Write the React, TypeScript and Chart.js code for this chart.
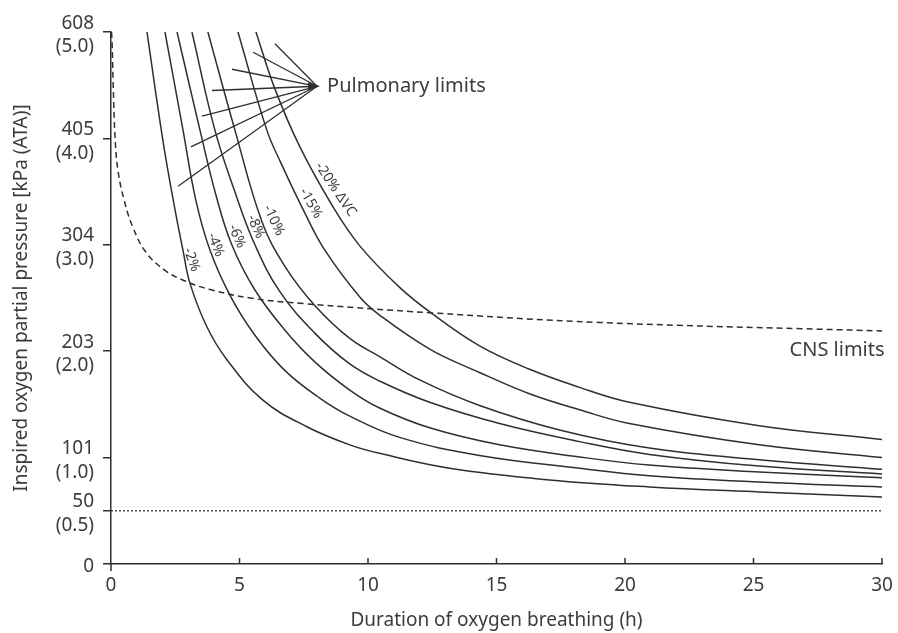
import React, { useEffect, useRef } from "react";
import { Chart, registerables } from "chart.js";

Chart.register(...registerables);

// ---------- data ----------
const hourTicks = [0, 5, 10, 15, 20, 25, 30];
const ataTicks = [0, 0.5, 1, 2, 3, 4, 5];
const kpaTickLabels = ["0", "50", "101", "203", "304", "405", "608"];
const ataTickLabels = ["", "(0.5)", "(1.0)", "(2.0)", "(3.0)", "(4.0)", "(5.0)"];

const curveLabels = ["-2%", "-4%", "-6%", "-8%", "-10%", "-15%", "-20% ΔVC"];

const vc2Hours = [1.4, 2.02, 2.49, 2.8, 3.07, 3.73, 4.51, 5.91, 7.62, 9.29, 10.45, 13.18, 17.06, 20.95, 25.22, 30.0];
const vc2Ata = [5.0, 3.98, 3.33, 2.95, 2.64, 2.23, 1.92, 1.54, 1.29, 1.12, 1.04, 0.9, 0.79, 0.724, 0.677, 0.63];

const vc4Hours = [2.1, 2.8, 3.3, 3.85, 4.62, 5.6, 6.76, 8.12, 9.29, 11.23, 14.34, 18.23, 20.95, 25.22, 30.0];
const vc4Ata = [5.0, 4.08, 3.42, 2.95, 2.53, 2.15, 1.82, 1.56, 1.39, 1.19, 1.02, 0.9, 0.83, 0.77, 0.724];

const vc6Hours = [2.57, 3.46, 4.08, 4.7, 5.6, 6.76, 7.93, 9.29, 10.45, 12.4, 15.12, 18.23, 20.95, 25.22, 30.0];
const vc6Ata = [5.0, 4.08, 3.47, 3.0, 2.575, 2.2, 1.9, 1.635, 1.466, 1.28, 1.12, 1.006, 0.93, 0.865, 0.81];

const vc8Hours = [3.15, 4.04, 4.86, 5.6, 6.57, 7.93, 9.29, 10.45, 12.4, 15.12, 18.23, 20.95, 25.22, 30.0];
const vc8Ata = [5.0, 4.08, 3.47, 3.0, 2.56, 2.17, 1.88, 1.72, 1.52, 1.32, 1.15, 1.03, 0.92, 0.846];

const vc10Hours = [3.77, 4.82, 5.87, 6.76, 7.93, 9.29, 10.45, 12.01, 14.34, 17.45, 20.95, 25.22, 30.0];
const vc10Ata = [5.0, 4.08, 3.22, 2.8, 2.43, 2.12, 1.95, 1.73, 1.49, 1.26, 1.09, 0.98, 0.89];

const vc15Hours = [4.94, 6.06, 6.61, 7.54, 8.32, 9.68, 10.45, 12.4, 14.34, 16.28, 18.23, 20.17, 25.22, 30.0];
const vc15Ata = [5.0, 4.08, 3.77, 3.3, 2.95, 2.51, 2.34, 2.02, 1.8, 1.6, 1.45, 1.32, 1.12, 1.0];

const vc20Hours = [5.64, 6.37, 7.35, 8.63, 9.68, 11.23, 12.51, 14.34, 16.29, 18.23, 20.17, 25.22, 30.0];
const vc20Ata = [5.0, 4.47, 3.92, 3.36, 2.99, 2.6, 2.35, 2.05, 1.83, 1.66, 1.52, 1.3, 1.17];

const cnsHours = [0.02, 0.04, 0.08, 0.16, 0.27, 0.51, 0.86, 1.36, 2.1, 2.88, 3.85, 5.41, 7.35, 12.5, 19.0, 30.0];
const cnsAta = [5.0, 4.92, 4.55, 4.0, 3.7, 3.42, 3.16, 2.93, 2.76, 2.66, 2.58, 2.5, 2.45, 2.36, 2.27, 2.19];

const floorHours = [0, 30];
const floorAta = [0.5, 0.5];

// pointer lines of the "Pulmonary limits" callout (data units)
const pointerFromHours = [6.38, 5.53, 4.71, 3.93, 3.54, 3.11, 2.61];
const pointerFromAta = [4.89, 4.81, 4.65, 4.45, 4.21, 3.92, 3.55];
const pointerTipHours = 8.02;
const pointerTipAta = 4.49;

// ---------- annotation placement (data units) ----------
const curveLabelHours = [3.14, 4.07, 4.9, 5.63, 6.33, 7.77, 8.74];
const curveLabelAta = [2.86, 3.0, 3.08, 3.17, 3.23, 3.39, 3.52];
const curveLabelAngles = [70, 68, 67, 66, 65, 60, 56];
const cnsLabelHours = 30.1;
const cnsLabelAta = 2.01;

// ---------- styles ----------
const FONT = "'Noto Sans', 'Open Sans', sans-serif";
const INK = "#2f2f2f";
const TEXT = "#3c3c3c";

const pts = (xs: number[], ys: number[]) => xs.map((x, i) => ({ x, y: ys[i] }));

const curveSeries = [
  pts(vc2Hours, vc2Ata),
  pts(vc4Hours, vc4Ata),
  pts(vc6Hours, vc6Ata),
  pts(vc8Hours, vc8Ata),
  pts(vc10Hours, vc10Ata),
  pts(vc15Hours, vc15Ata),
  pts(vc20Hours, vc20Ata),
];

const annotPlugin = {
  id: "annot",
  afterDatasetsDraw(chart: any) {
    const { ctx, scales, chartArea } = chart;
    const x = scales.x;
    const y = scales.y;
    ctx.save();
    // pointer lines
    ctx.strokeStyle = INK;
    ctx.lineWidth = 1.3;
    const tx = x.getPixelForValue(pointerTipHours);
    const ty = y.getPixelForValue(pointerTipAta);
    pointerFromHours.forEach((h, i) => {
      ctx.beginPath();
      ctx.moveTo(x.getPixelForValue(h), y.getPixelForValue(pointerFromAta[i]));
      ctx.lineTo(tx, ty);
      ctx.stroke();
    });
    ctx.fillStyle = INK;
    ctx.beginPath();
    ctx.moveTo(tx + 3, ty);
    ctx.lineTo(tx - 9, ty - 4);
    ctx.lineTo(tx - 9, ty + 4);
    ctx.closePath();
    ctx.fill();

    // texts
    ctx.fillStyle = TEXT;
    ctx.font = `20px ${FONT}`;
    ctx.textBaseline = "middle";
    ctx.textAlign = "left";
    ctx.fillText("Pulmonary limits", tx + 10, ty);
    ctx.textAlign = "right";
    ctx.fillText("CNS limits", x.getPixelForValue(cnsLabelHours), y.getPixelForValue(cnsLabelAta));

    ctx.font = `14px ${FONT}`;
    ctx.textAlign = "center";
    curveLabels.forEach((t, i) => {
      ctx.save();
      ctx.translate(x.getPixelForValue(curveLabelHours[i]), y.getPixelForValue(curveLabelAta[i]));
      ctx.rotate((curveLabelAngles[i] * Math.PI) / 180);
      ctx.fillText(t, 0, 0);
      ctx.restore();
    });

    // x-axis tick marks (inward; the one at 0 points down)
    ctx.strokeStyle = INK;
    ctx.lineWidth = 1.5;
    const b = chartArea.bottom;
    hourTicks.forEach((v) => {
      const px = x.getPixelForValue(v);
      ctx.beginPath();
      if (v === 0) {
        ctx.moveTo(px, b);
        ctx.lineTo(px, b + 7);
      } else {
        ctx.moveTo(px, b);
        ctx.lineTo(px, b - 6);
      }
      ctx.stroke();
    });
    ctx.restore();
  },
};

export default function App() {
  const ref = useRef<HTMLCanvasElement | null>(null);

  useEffect(() => {
    document.body.style.margin = "0";
    const canvas = ref.current;
    if (!canvas) return;

    const curveDatasets = curveSeries.map((data, i) => ({
      label: curveLabels[i],
      data,
      borderColor: INK,
      borderWidth: 1.5,
      pointRadius: 0,
      fill: false,
      tension: 0.4,
    }));

    const chart = new Chart(canvas, {
      type: "line",
      data: {
        datasets: [
          ...curveDatasets,
          {
            label: "CNS limits",
            data: pts(cnsHours, cnsAta),
            borderColor: INK,
            borderWidth: 1.5,
            borderDash: [6, 4],
            pointRadius: 0,
            fill: false,
            tension: 0.4,
          },
          {
            label: "0.5 ATA",
            data: pts(floorHours, floorAta),
            borderColor: INK,
            borderWidth: 1.3,
            borderDash: [2, 2],
            pointRadius: 0,
            fill: false,
          },
        ],
      },
      options: {
        responsive: false,
        animation: false,
        devicePixelRatio: 1,
        layout: { padding: { left: 0, top: 32, right: 16, bottom: 0 } },
        plugins: {
          legend: { display: false },
          tooltip: { enabled: false },
        },
        scales: {
          x: {
            type: "linear",
            min: 0,
            max: 30,
            afterBuildTicks: (scale: any) => {
              scale.ticks = hourTicks.map((v) => ({ value: v }));
            },
            afterFit: (scale: any) => {
              scale.height = 69;
              scale.paddingLeft = 0;
              scale.paddingRight = 0;
            },
            grid: { display: false, drawTicks: false },
            border: { display: true, color: INK, width: 1.5 },
            ticks: {
              color: TEXT,
              font: { family: FONT, size: 19 },
              padding: 10,
              maxRotation: 0,
              autoSkip: false,
              callback: (v: any) => String(v),
            },
            title: {
              display: true,
              text: "Duration of oxygen breathing (h)",
              color: TEXT,
              font: { family: FONT, size: 19 },
              padding: { top: 0, bottom: 1 },
            },
          },
          y: {
            type: "linear",
            min: 0,
            max: 5,
            afterBuildTicks: (scale: any) => {
              scale.ticks = ataTicks.map((v) => ({ value: v }));
            },
            afterFit: (scale: any) => {
              scale.width = 111;
              scale.paddingTop = 0;
              scale.paddingBottom = 0;
            },
            grid: {
              drawOnChartArea: false,
              drawTicks: true,
              tickLength: 8,
              color: INK,
              lineWidth: 1.5,
            },
            border: { display: true, color: INK, width: 1.5 },
            ticks: {
              color: TEXT,
              font: { family: FONT, size: 19, lineHeight: 1.25 },
              padding: 9,
              labelOffset: 3,
              autoSkip: false,
              callback: (v: any) => {
                const i = ataTicks.indexOf(Number(v));
                if (i < 0) return "";
                return ataTickLabels[i] ? [kpaTickLabels[i], ataTickLabels[i]] : kpaTickLabels[i];
              },
            },
            title: {
              display: true,
              text: "Inspired oxygen partial pressure [kPa (ATA)]",
              color: TEXT,
              font: { family: FONT, size: 19 },
              padding: { top: 10, bottom: 0 },
            },
          },
        },
      },
      plugins: [annotPlugin],
    });

    return () => chart.destroy();
  }, []);

  return (
    <div style={{ width: 898, height: 633, background: "#fff" }}>
      <canvas ref={ref} width={898} height={633} style={{ display: "block" }} />
    </div>
  );
}
